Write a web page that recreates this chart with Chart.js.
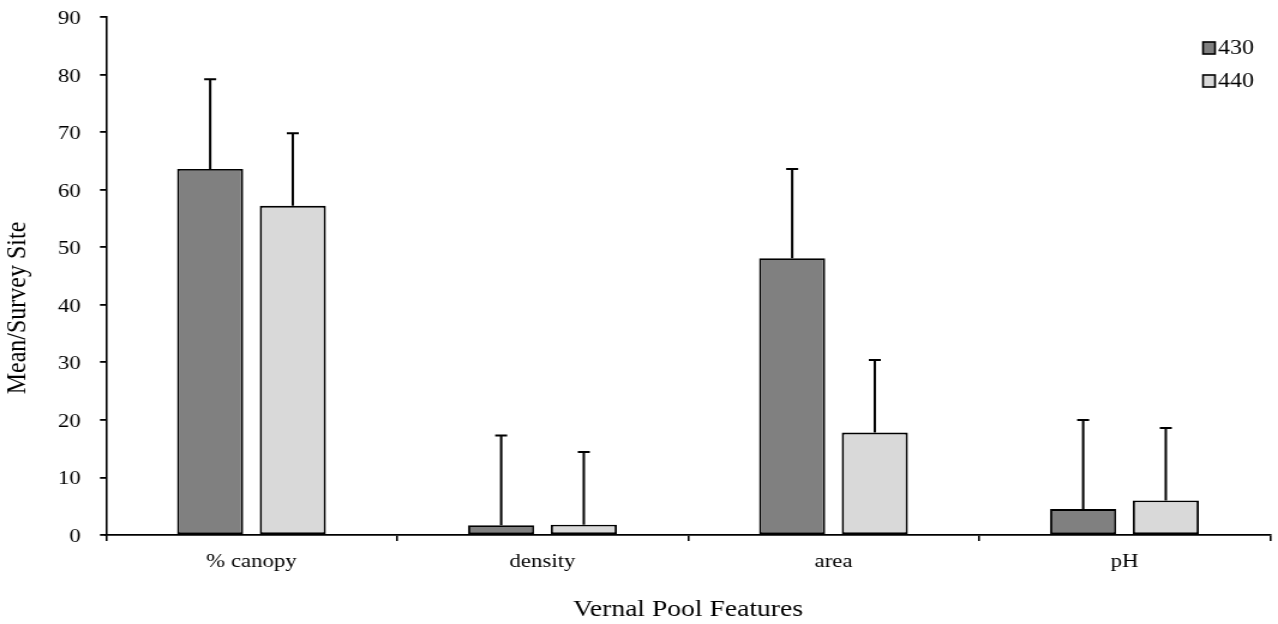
<!DOCTYPE html>
<html>
<head>
<meta charset="utf-8">
<script src="https://cdn.jsdelivr.net/npm/chart.js@4.4.1/dist/chart.umd.min.js"></script>
<style>
  html, body { margin: 0; padding: 0; background: #fff; overflow: hidden; }
  #wrap { width: 1278px; height: 624px; position: relative; }
  #c { width: 1278px; height: 624px; display: block; }
</style>
</head>
<body>
<div id="wrap"><canvas id="c" width="1065" height="624" style="width:1278px;height:624px;"></canvas></div>
<script>
const categories = ['% canopy', 'density', 'area', 'pH'];
const seriesNames = ['430', '440'];
const values430 = [63.6, 1.7, 48.1, 4.5];
const values440 = [57.2, 1.8, 17.8, 6.0];
const error430 = [15.6, 15.6, 15.5, 15.5];
const error440 = [12.6, 12.6, 12.6, 12.6];
const yTicks = [0, 10, 20, 30, 40, 50, 60, 70, 80, 90];
const xTitle = 'Vernal Pool Features';
const yTitle = 'Mean/Survey Site';

const FONT = '"Liberation Serif", "Times New Roman", serif';

const errorBarPlugin = {
  id: 'errorBars',
  afterDatasetsDraw(chart) {
    const ctx = chart.ctx;
    const yScale = chart.scales.y;
    chart.data.datasets.forEach((ds, di) => {
      const meta = chart.getDatasetMeta(di);
      meta.data.forEach((el, i) => {
        const top = yScale.getPixelForValue(ds.data[i] + ds.errors[i]);
        ctx.save();
        ctx.strokeStyle = '#000';
        ctx.lineWidth = 2;
        ctx.beginPath();
        ctx.moveTo(el.x, el.y);
        ctx.lineTo(el.x, top);
        ctx.moveTo(el.x - 5, top);
        ctx.lineTo(el.x + 5, top);
        ctx.stroke();
        ctx.restore();
      });
    });
  }
};

const yTitlePlugin = {
  id: 'yTitle',
  afterDraw(chart) {
    const ctx = chart.ctx;
    ctx.save();
    ctx.translate(15, 308);
    ctx.rotate(-Math.PI / 2);
    ctx.fillStyle = '#000';
    ctx.font = '24px ' + FONT;
    ctx.textAlign = 'center';
    ctx.textBaseline = 'middle';
    ctx.fillText(yTitle, 0, 0);
    ctx.restore();
  }
};

const legendPlugin = {
  id: 'customLegend',
  afterDraw(chart) {
    const ctx = chart.ctx;
    const x0 = 1002.5;
    const rows = [48, 81];
    chart.data.datasets.forEach((ds, di) => {
      const cy = rows[di];
      ctx.save();
      ctx.fillStyle = ds.backgroundColor;
      ctx.fillRect(x0, cy - 6, 10, 12);
      ctx.strokeStyle = '#000';
      ctx.lineWidth = 1.6;
      ctx.strokeRect(x0, cy - 6, 10, 12);
      ctx.fillStyle = '#000';
      ctx.font = '20px ' + FONT;
      ctx.textBaseline = 'middle';
      ctx.textAlign = 'left';
      ctx.fillText(ds.label, x0 + 12.5, cy + 1);
      ctx.restore();
    });
  }
};

new Chart(document.getElementById('c'), {
  type: 'bar',
  data: {
    labels: categories,
    datasets: [
      { label: seriesNames[0], data: values430, errors: error430,
        backgroundColor: '#808080', borderColor: '#000', borderWidth: 1.9, borderSkipped: false },
      { label: seriesNames[1], data: values440, errors: error440,
        backgroundColor: '#d9d9d9', borderColor: '#000', borderWidth: 1.9, borderSkipped: false }
    ]
  },
  options: {
    responsive: false,
    animation: false,
    devicePixelRatio: 1,
    categoryPercentage: 0.568,
    barPercentage: 0.8,
    layout: { padding: { top: 17, right: 6.7, bottom: 0, left: 0 } },
    plugins: {
      legend: { display: false },
      tooltip: { enabled: false }
    },
    scales: {
      x: {
        offset: true,
        grid: { offset: true, drawOnChartArea: false, drawTicks: true, tickLength: 6, color: '#000', lineWidth: 1.6 },
        border: { display: true, color: '#000', width: 1.8 },
        ticks: { color: '#000', font: { family: FONT, size: 19 }, padding: 10 },
        title: { display: true, text: xTitle, color: '#000', font: { family: FONT, size: 23 }, padding: { top: 10, bottom: 0 } },
        afterFit(scale) { scale.height = 89; }
      },
      y: {
        min: 0, max: 90,
        afterBuildTicks(scale) { scale.ticks = yTicks.map(v => ({ value: v })); },
        grid: { drawOnChartArea: false, drawTicks: true, tickLength: 5, color: '#000', lineWidth: 1.8 },
        border: { display: true, color: '#000', width: 1.6 },
        ticks: { color: '#000', font: { family: FONT, size: 19, lineHeight: 0.4 }, padding: 16, labelOffset: 2 },
        title: { display: false },
        afterFit(scale) { scale.width = 88.3; scale.paddingTop = 0; scale.paddingBottom = 0; }
      }
    }
  },
  plugins: [errorBarPlugin, yTitlePlugin, legendPlugin]
});
</script>
</body>
</html>
